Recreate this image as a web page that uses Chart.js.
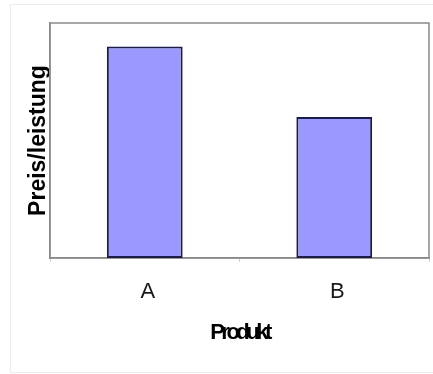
<!DOCTYPE html>
<html>
<head>
<meta charset="utf-8">
<script src="https://cdn.jsdelivr.net/npm/chart.js@4/dist/chart.umd.min.js"></script>
<style>
    body { margin: 0; background: #fff; }
    #rahmen {
        position: absolute; left: 10px; top: 4px;
        width: 440px; height: 367px;
        border: 1px solid #ececec;
    }
    #wrap { position: absolute; left: 0; top: 0; width: 433px; height: 374px; }
</style>
</head>
<body>
<div id="rahmen"></div>
<div id="wrap"><canvas id="MiGrafica" width="433" height="374"></canvas></div>
<script>
let produkte = ["A", "B"];
let werte = [9, 6];
let titelX = "Produkt";
let titelY = "Preis/leistung";

// Rahmen um die Zeichenfläche (unter den Balken)
let rahmenPlugin = {
    id: "rahmenPlugin",
    beforeDatasetsDraw(chart) {
        let ctx = chart.ctx;
        let a = chart.chartArea;
        ctx.save();
        ctx.strokeStyle = "#8a8a8a";
        ctx.lineWidth = 1.5;
        ctx.strokeRect(a.left, a.top, a.right - a.left, a.bottom - a.top);
        ctx.restore();
    }
};

// x-Titel eng gesetzt wie im Original
let engPlugin = {
    id: "engPlugin",
    afterLayout(chart) {
        let s = chart.scales.x;
        if (s._eng) return;
        let orig = s.drawTitle;
        s.drawTitle = function () {
            this.ctx.save();
            this.ctx.letterSpacing = "-3.5px";
            orig.call(this);
            this.ctx.restore();
        };
        s._eng = true;
    }
};

let miCanvas = document.getElementById("MiGrafica").getContext("2d");
let chartConfig = {
    type: "bar",
    data: {
        labels: produkte,
        datasets: [{
            data: werte,
            backgroundColor: "#9999ff",
            borderColor: "#1c1c48",
            borderWidth: 2,
            borderSkipped: false,
            barPercentage: 0.4,
            categoryPercentage: 1
        }]
    },
    options: {
        responsive: false,
        animation: false,
        layout: { padding: { left: 29.5, top: 23, right: 4, bottom: 0 } },
        plugins: {
            legend: { display: false },
            tooltip: { enabled: false }
        },
        scales: {
            x: {
                grid: {
                    offset: true,
                    drawOnChartArea: false,
                    tickLength: 4,
                    color: "#d0d0d0"
                },
                border: { color: "#8a8a8a", width: 1.5 },
                ticks: {
                    padding: 16.7,
                    labelOffset: 3,
                    color: "#1a1a1a",
                    font: { family: "'Liberation Sans', Arial", size: 22 }
                },
                title: {
                    display: true,
                    text: titelX,
                    color: "#000",
                    padding: { top: -1.7, bottom: 27.5 },
                    font: { family: "'Liberation Sans', Arial", size: 22, weight: "bold" }
                }
            },
            y: {
                min: 0,
                max: 10,
                grid: { display: false, drawTicks: false },
                border: { color: "#8a8a8a", width: 1.5 },
                ticks: { display: false },
                title: {
                    display: true,
                    text: titelY,
                    color: "#000",
                    padding: { top: 0, bottom: 2.1 },
                    font: { family: "'Liberation Sans', Arial", size: 23, weight: "bold", lineHeight: 0.8 }
                }
            }
        }
    },
    plugins: [rahmenPlugin, engPlugin]
};

let chart = new Chart(miCanvas, chartConfig);
</script>
</body>
</html>
